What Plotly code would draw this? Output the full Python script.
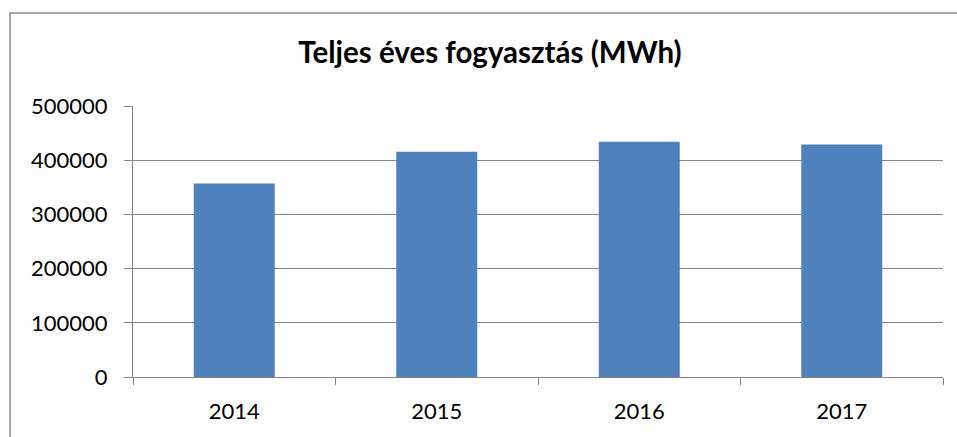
import plotly.graph_objects as go

years = ["2014", "2015", "2016", "2017"]
consumption = [357000, 415600, 434000, 429000]
title_text = "Teljes éves fogyasztás (MWh)"

W, H = 957, 437
L, R, T, B = 133, 14, 106, 60
pw = W - L - R
ph = H - T - B

def px_x(p):
    return (p - L) / pw

def px_y(p):
    return (H - B - p) / ph

FONT = "Lato, Carlito, Calibri, sans-serif"

fig = go.Figure(
    go.Bar(x=years, y=consumption, marker=dict(color="#4F81BD", line=dict(width=0)),
           hoverinfo="skip")
)

fig.update_layout(
    width=W, height=H, autosize=False,
    margin=dict(l=L, r=R, t=T, b=B),
    paper_bgcolor="white", plot_bgcolor="white",
    bargap=0.6,
    showlegend=False,
    font=dict(family=FONT, size=22, color="black"),
    title=dict(text="<b>" + title_text + "</b>", xref="container", x=490 / W, xanchor="center",
               y=1 - 53 / H, yanchor="middle",
               font=dict(size=29.5, family=FONT, color="black")),
)

fig.update_yaxes(
    range=[0, 500000], dtick=100000, tickformat="d",
    showgrid=True, gridcolor="#868686", gridwidth=1,
    showline=True, linecolor="#868686", linewidth=1,
    ticks="outside", ticklen=8, tickcolor="#868686",
    ticklabelstandoff=12,
    zeroline=False, fixedrange=True,
)
fig.update_xaxes(
    showline=True, linecolor="#868686", linewidth=1,
    ticks="outside", ticklen=7, tickcolor="#868686", tickson="boundaries",
    ticklabelstandoff=15,
    showgrid=False, fixedrange=True,
)

fig.add_shape(type="rect", xref="paper", yref="paper",
              x0=px_x(10), x1=px_x(975), y0=px_y(455), y1=px_y(13),
              line=dict(color="#8C8C8C", width=1.5), fillcolor="rgba(0,0,0,0)", layer="above")

fig.write_html("out.html", config={"displayModeBar": False},
               post_script="document.body.style.margin='0';document.body.style.overflow='hidden';")
